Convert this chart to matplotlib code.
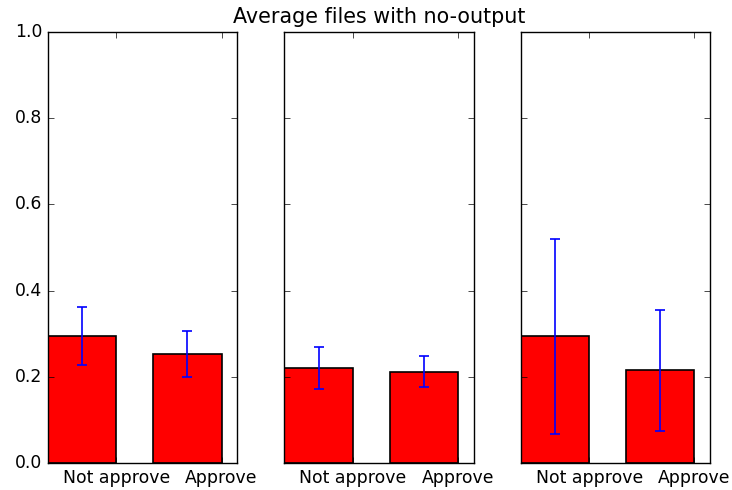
import matplotlib
matplotlib.use("Agg")
import matplotlib.pyplot as plt
import numpy as np

plt.style.use('classic')
plt.rcParams['font.size'] = 12.4

categories = ["Not approve", "Approve"]
means = [
    [0.295, 0.253],
    [0.220, 0.212],
    [0.294, 0.215],
]
errors = [
    [0.068, 0.053],
    [0.048, 0.036],
    [0.226, 0.140],
]
title = "Average files with no-output"

fig, axes = plt.subplots(1, 3, sharey=True, figsize=(7.32, 4.9), dpi=100)
fig.patch.set_facecolor('white')
fig.subplots_adjust(left=0.0656, right=0.970, top=0.9347, bottom=0.0551, wspace=0.249)

ind = np.arange(len(categories))
width = 0.65
for ax, m, e in zip(axes, means, errors):
    ax.bar(ind, m, width, color='red', edgecolor='black', linewidth=1.2, align='edge')
    ax.errorbar(ind + width / 2, m, yerr=e, fmt='none', ecolor='blue',
                elinewidth=1.2, capsize=3.6, capthick=1.2)
    ax.set_xticks(ind + width)
    ax.set_xticklabels(categories)
    ax.set_xlim(0, 1.8)
    ax.set_ylim(0, 1.0)
    ax.set_yticks([0.0, 0.2, 0.4, 0.6, 0.8, 1.0])

axes[1].set_title(title, y=1.005)
fig.savefig("out.png", dpi=100, facecolor='white')
